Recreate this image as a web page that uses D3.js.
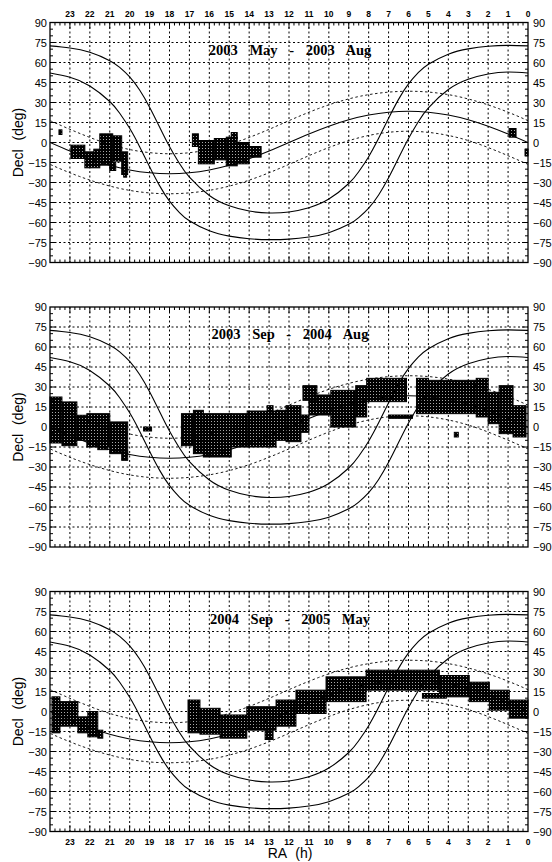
<!DOCTYPE html>
<html><head><meta charset="utf-8">
<script src="https://cdn.jsdelivr.net/npm/d3@7"></script>
<style>body{margin:0;background:#fff}svg{display:block}</style>
</head><body><svg id="c" width="552" height="862"></svg>
<script>
// ---------------- data ----------------
const panelTitles = ["2003 May - 2003 Aug", "2003 Sep - 2004 Aug", "2004 Sep - 2005 May"];
const raTickLabels = [23,22,21,20,19,18,17,16,15,14,13,12,11,10,9,8,7,6,5,4,3,2,1,0];
const decTickLabels = [90,75,60,45,30,15,0,-15,-30,-45,-60,-75,-90];

// ecliptic (RA h, Dec deg)
const eclRA  = [0,1,2,3,4,5,6,7,8,9,10,11,12,13,14,15,16,17,18,19,20,21,22,23,24];
const eclDec = [0,6.40,12.23,17.05,20.58,22.72,23.44,22.72,20.58,17.05,12.23,6.40,0,-6.40,-12.23,-17.05,-20.58,-22.72,-23.44,-22.72,-20.58,-17.05,-12.23,-6.40,0];
// ecliptic latitude +15 / -15
const eclNRA  = [0,1.475,3.60,6.0,8.40,10.525,12.405,14.21,16.065,18.0,19.935,21.79,23.595,24];
const eclNDec = [16.39,25.44,34.77,38.44,34.77,25.44,13.74,2.60,-5.47,-8.44,-5.47,2.60,13.74,16.39];
const eclSRA  = [0,0.405,2.21,4.065,6.0,7.935,9.79,11.595,13.475,15.60,18.0,20.40,22.525,24];
const eclSDec = [-16.39,-13.74,-2.60,5.47,8.44,5.47,-2.60,-13.74,-25.44,-34.77,-38.44,-34.77,-25.44,-16.39];
// galactic latitude +10 / -10
const galRA   = [0,1,2,3,4,5,5.5,6,6.5,7,7.5,8,8.5,9,10,11,12,13,14,15,16,17,17.5,18,18.5,19,19.5,20,20.5,21,22,23,24];
const galNDec = [72.48,72.87,72.17,70.19,66.26,58.71,52.53,43.93,32.33,18.15,3.12,-10.63,-21.96,-30.75,-42.44,-48.89,-52.08,-52.85,-51.43,-47.45,-39.76,-26.03,-15.81,-3.03,11.67,26.49,39.32,49.19,56.32,61.39,67.64,70.91,72.48];
const galSDec = [52.08,52.85,51.43,47.45,39.76,26.03,15.81,3.03,-11.67,-26.49,-39.32,-49.19,-56.32,-61.39,-67.64,-70.91,-72.48,-72.87,-72.17,-70.19,-66.26,-58.71,-52.53,-43.93,-32.33,-18.15,-3.12,10.63,21.96,30.75,42.44,48.89,52.08];

// observed fields: [RA east edge (h), RA west edge (h), Dec low, Dec high]
const fields2003a = [
  [23.55,23.40,6,9.5],
  [22.95,22.25,-12,-2],[22.25,21.50,-19,-7],[21.80,21.50,-17,-5],[21.50,20.85,-17,6.5],[21.00,20.70,-21,-15],[20.85,20.40,-14,5],[20.40,20.10,-24,-7],[20.30,20.15,-26,-22],
  [16.85,16.55,-3,6.5],[16.55,15.75,-16,1.5],[15.75,15.15,-13,3],[15.15,14.60,-17.5,4],[14.90,14.60,3,7.5],[14.60,14.00,-16,0],[14.00,13.40,-11,-3],
  [0.95,0.60,4,10.5],[0.15,0.00,-10,-5]
];
const fields2003b = [
  [24.0,23.40,-12,22.5],[23.40,22.65,-14,18.8],[22.65,22.15,-10,8.8],[22.15,21.00,-15,10],[21.60,21.10,-17,-10],[21.00,20.10,-20,3.8],[20.40,20.10,-25,-18],
  [19.30,18.90,-3,0],
  [17.40,16.80,-14,10],[16.80,16.30,-20,12.5],[16.30,14.90,-22.5,10],[14.90,14.10,-15,10],[14.10,12.65,-15,12],[13.10,12.80,12,16],
  [12.65,12.15,-10,12.5],[12.15,11.40,-11,16],[11.40,11.00,-4,9],[11.00,9.90,9,24],[11.30,10.60,20,31],
  [9.90,8.65,0,27.5],[8.65,8.10,7.5,31],[8.10,6.10,19,36.5],[5.60,5.00,10,36.5],[5.00,2.60,10,35],
  [2.60,2.00,7.5,36.5],[2.00,1.45,2.5,26],[1.45,0.75,-5,31],[0.75,0.10,-7.5,16],
  [7.00,5.80,6.5,9],[3.70,3.50,-7.5,-4]
];
const fields2004 = [
  [23.90,23.50,-16,11],[23.50,22.60,-11,7.4],[22.60,22.10,-16,-4],[22.10,21.60,-19,0],[21.60,21.35,-20,-14],
  [17.07,16.47,-16,8.6],[16.47,15.46,-17,2.4],[15.46,14.12,-20,-2.6],[14.12,12.65,-14,3.6],[13.20,12.80,-21,-14],
  [12.65,11.65,-11,8.6],[11.65,10.14,-1.5,16],[10.14,8.13,7.4,26],[8.13,4.45,16,31],[4.45,2.95,11,27],
  [2.95,1.94,7.4,22],[1.94,0.94,1,16],[0.94,0.00,-5,8.6],
  [5.30,4.10,10,13.5],[10.80,10.50,-1,1]
];
const panelFields = [fields2003a, fields2003b, fields2004];

// ---------------- drawing ----------------
const svg = d3.select("#c");
const left = 50, right = 528, ph = 240;
const panelTops = [22.5, 307, 591.5];
const x = d3.scaleLinear().domain([24, 0]).range([left, right]);

const defs = svg.append("defs");
const pat = defs.append("pattern").attr("id","chk").attr("width",3).attr("height",3)
  .attr("patternUnits","userSpaceOnUse");
pat.append("rect").attr("width",3).attr("height",3).attr("fill","#000");
pat.append("rect").attr("x",1).attr("y",1).attr("width",1).attr("height",1).attr("fill","#aaa");

const fontSans = "'Liberation Sans', Arial, Helvetica, sans-serif";

panelTops.forEach((top, pi) => {
  const y = d3.scaleLinear().domain([-90, 90]).range([top + ph, top]);
  const g = svg.append("g");

  // grid
  const grid = g.append("g").attr("stroke","#000").attr("stroke-width",1).attr("stroke-dasharray","2,2.5").attr("fill","none");
  raTickLabels.forEach(h => { if (h > 0) grid.append("line").attr("x1",x(h)).attr("x2",x(h)).attr("y1",top).attr("y2",top+ph); });
  decTickLabels.forEach(d => { if (d > -90 && d < 90) grid.append("line").attr("x1",left).attr("x2",right).attr("y1",y(d)).attr("y2",y(d)); });

  // fields
  g.append("g").selectAll("rect").data(panelFields[pi]).join("rect")
    .attr("x", d => x(d[0])).attr("width", d => x(d[1]) - x(d[0]))
    .attr("y", d => y(d[3])).attr("height", d => y(d[2]) - y(d[3]))
    .attr("fill","url(#chk)").attr("stroke","#000").attr("stroke-width",1);

  // curves
  const line = d3.line().x(d => x(d[0])).y(d => y(d[1])).curve(d3.curveNatural);
  const clip = "clip" + pi;
  defs.append("clipPath").attr("id", clip).append("rect").attr("x",left).attr("y",top).attr("width",right-left).attr("height",ph);
  const cg = g.append("g").attr("clip-path", `url(#${clip})`).attr("fill","none");
  cg.append("path").attr("d", line(eclRA.map((r,i)=>[r,eclDec[i]]))).attr("stroke","#000").attr("stroke-width",1.1);
  cg.append("path").attr("d", line(galRA.map((r,i)=>[r,galNDec[i]]))).attr("stroke","#000").attr("stroke-width",1.1);
  cg.append("path").attr("d", line(galRA.map((r,i)=>[r,galSDec[i]]))).attr("stroke","#000").attr("stroke-width",1.1);
  cg.append("path").attr("d", line(eclNRA.map((r,i)=>[r,eclNDec[i]]))).attr("stroke","#000").attr("stroke-width",0.9).attr("stroke-dasharray","2.5,2.5");
  cg.append("path").attr("d", line(eclSRA.map((r,i)=>[r,eclSDec[i]]))).attr("stroke","#000").attr("stroke-width",0.9).attr("stroke-dasharray","2.5,2.5");

  // frame
  g.append("rect").attr("x",left).attr("y",top).attr("width",right-left).attr("height",ph)
    .attr("fill","none").attr("stroke","#000").attr("stroke-width",1.3);

  // ticks
  const tk = g.append("g").attr("stroke","#000").attr("stroke-width",1);
  for (let m = 0; m <= 24*4; m++) {
    const h = m/4; const len = (m % 4 === 0) ? 6 : 3;
    if (h === 0 || h === 24) continue;
    tk.append("line").attr("x1",x(h)).attr("x2",x(h)).attr("y1",top+ph).attr("y2",top+ph-len);
    tk.append("line").attr("x1",x(h)).attr("x2",x(h)).attr("y1",top).attr("y2",top+len);
  }
  for (let d = -90; d <= 90; d += 5) {
    if (d === -90 || d === 90) continue;
    const len = (d % 15 === 0) ? 6 : 3;
    tk.append("line").attr("x1",left).attr("x2",left+len).attr("y1",y(d)).attr("y2",y(d));
    tk.append("line").attr("x1",right).attr("x2",right-len).attr("y1",y(d)).attr("y2",y(d));
  }

  // y labels
  const fmt = d => d < 0 ? "\u2212" + Math.abs(d) : String(d);
  g.append("g").selectAll("text").data(decTickLabels).join("text")
    .attr("x", left - 3).attr("y", d => y(d) + 4).attr("text-anchor","end")
    .attr("font-family", fontSans).attr("font-size", 11).text(fmt);
  g.append("g").selectAll("text").data(decTickLabels).join("text")
    .attr("x", right + 5).attr("y", d => y(d) + 4).attr("text-anchor","start")
    .attr("font-family", fontSans).attr("font-size", 11).text(fmt);

  // Decl label
  g.append("text").attr("transform", `translate(23,${top+ph/2}) rotate(-90)`)
    .attr("text-anchor","middle").attr("font-family", fontSans).attr("font-size", 14)
    .attr("word-spacing", 5).text("Decl (deg)");

  // title
  g.append("text").attr("x", 290).attr("y", top + 32).attr("text-anchor","middle")
    .attr("font-family","'Liberation Serif', 'Times New Roman', serif").attr("font-weight","bold")
    .attr("font-size", 14.5).attr("word-spacing", 8).text(panelTitles[pi]);

  // RA labels
  if (pi === 0) {
    g.append("g").selectAll("text").data(raTickLabels).join("text")
      .attr("x", d => x(d)).attr("y", top - 6).attr("text-anchor","middle")
      .attr("font-family", fontSans).attr("font-size", 8.5).attr("font-weight","bold").text(d => d);
  }
  if (pi === 2) {
    g.append("g").selectAll("text").data(raTickLabels).join("text")
      .attr("x", d => x(d)).attr("y", top + ph + 13).attr("text-anchor","middle")
      .attr("font-family", fontSans).attr("font-size", 8.5).attr("font-weight","bold").text(d => d);
    g.append("text").attr("x", 290).attr("y", 858).attr("text-anchor","middle")
      .attr("font-family", fontSans).attr("font-size", 14).attr("word-spacing", 5).text("RA (h)");
  }
});
</script></body></html>
